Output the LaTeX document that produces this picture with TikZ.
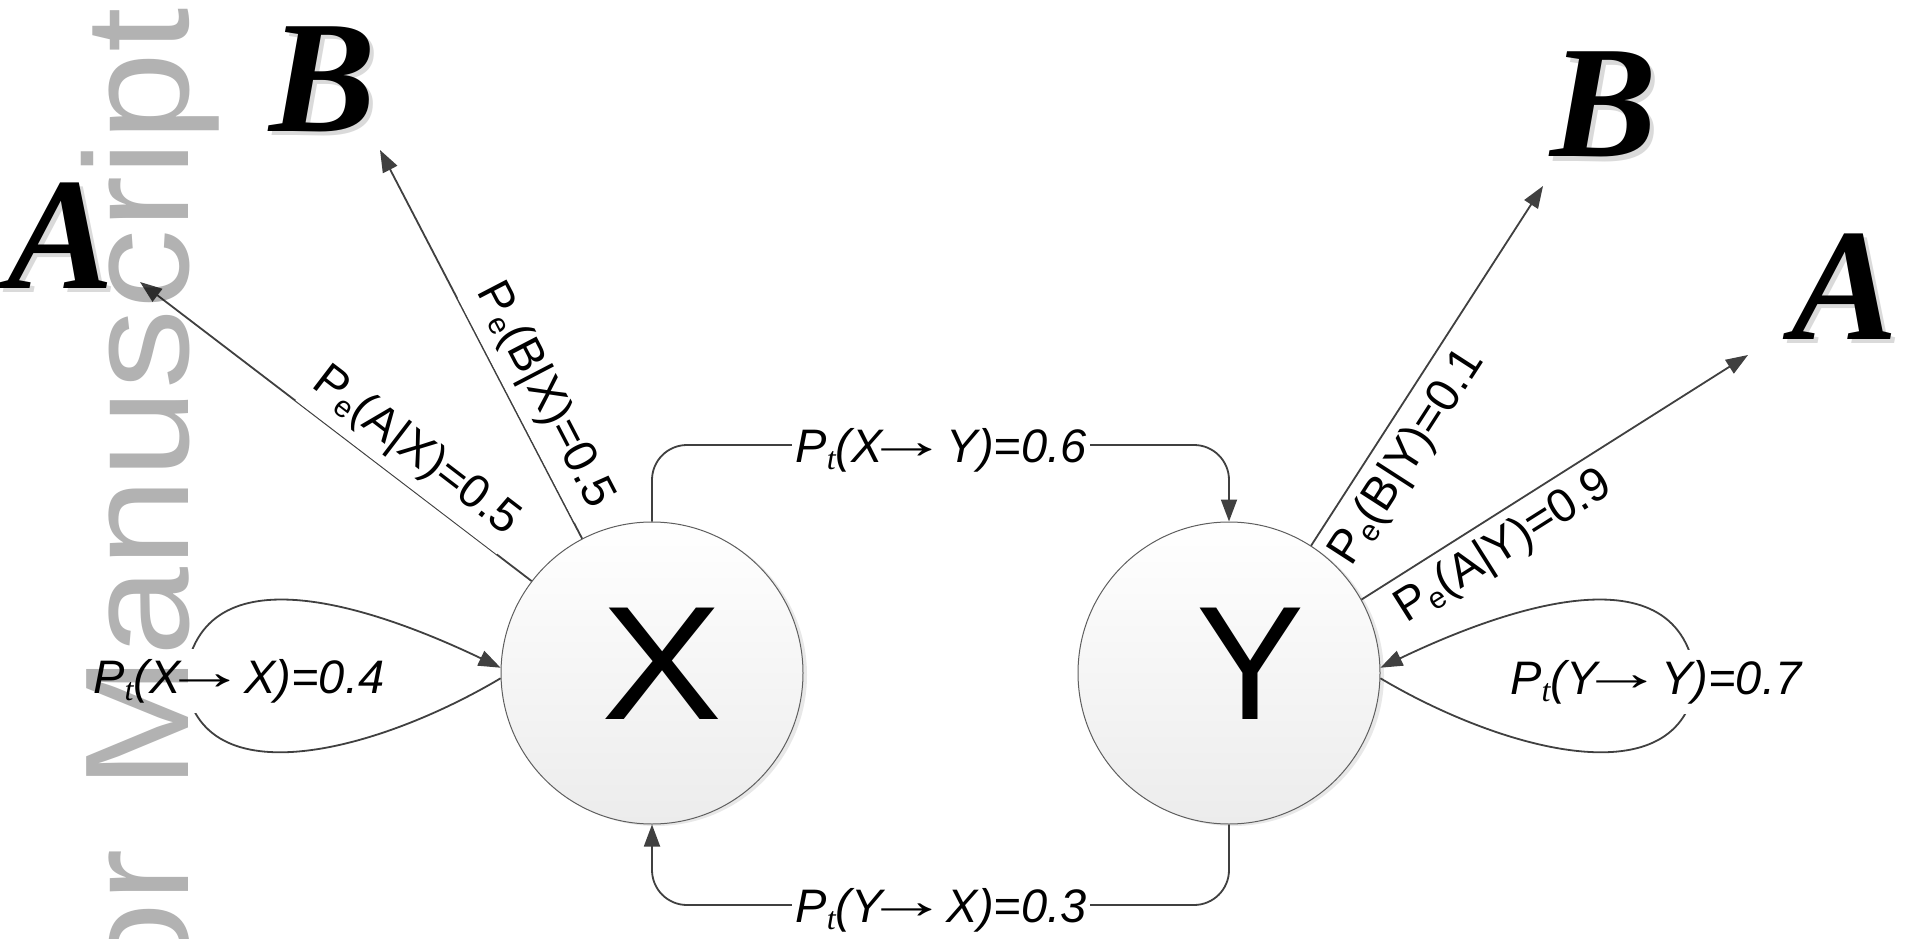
\documentclass[tikz,border=0pt]{standalone}
\usepackage{fontspec}
\usetikzlibrary{arrows.meta,shadows}
\newfontfamily\arialf{Liberation Sans}
\newfontfamily\tnrf{Liberation Serif}
\definecolor{linec}{RGB}{64,64,64}
\definecolor{circb}{RGB}{95,95,95}
\definecolor{circbot}{RGB}{236,236,236}
\definecolor{wmc}{RGB}{178,178,178}
\definecolor{shadc}{RGB}{218,218,218}
\newcommand\lblup{\arialf\fontsize{47}{56}\selectfont}
\newcommand\lblit{\arialf\itshape\fontsize{47}{56}\selectfont}
\newcommand\tsub{\raisebox{-7pt}{\tnrf\itshape\fontsize{32}{32}\selectfont t}}
\newcommand\esub{\raisebox{-6pt}{\arialf\upshape\fontsize{30}{30}\selectfont e}}
\newcommand\rarr{\hspace{3pt}\makebox[42pt]{\raisebox{4pt}{\scalebox{1.8}[1.1]{\upshape →}}}\hspace{6pt}}
\tikzset{
  conn/.style={draw=linec, line width=1.8pt, -{Triangle[length=22pt,width=16pt]}},
  state/.style={circle, minimum size=302pt, inner sep=0pt, draw=circb, line width=1pt,
    top color=white, bottom color=circbot,
    drop shadow={opacity=0.18, shadow xshift=4pt, shadow yshift=-2pt},
    font=\arialf\fontsize{162}{162}\selectfont},
  lblbox/.style={inner xsep=3pt, inner ysep=10pt, fill=white},
  lblfree/.style={inner xsep=3pt, inner ysep=10pt},
  letter/.style={anchor=base, inner sep=0pt, font=\tnrf\bfseries\itshape\fontsize{160}{160}\selectfont},
  letshadow/.style={letter, text=shadc},
  wmstyle/.style={inner sep=0pt, text=wmc, font=\arialf\fontsize{148}{148}\selectfont}
}
\begin{document}
\begin{tikzpicture}[x=1pt,y=-1pt]
\useasboundingbox (0,0) rectangle (1912,939);
\fill[white] (0,0) rectangle (1912,939);

% states
\node[state] (X) at (652,673) {\rule[-18pt]{0pt}{18pt}\hspace{20pt}\scalebox{1.12}[1]{X}};
\node[state] (Y) at (1229,673) {\rule[-18pt]{0pt}{18pt}\hspace{44pt}Y};

% emission targets
\node[letshadow] (As1) at (65,292) {A};
\node[letter] (A1) at (61,288) {A};
\node[letshadow] (Bs1) at (327,136) {B};
\node[letter] (B1) at (323,132) {B};
\node[letshadow] (Bs2) at (1608,161) {B};
\node[letter] (B2) at (1604,157) {B};
\node[letshadow] (As2) at (1849,343) {A};
\node[letter] (A2) at (1845,339) {A};

% arrow tips and helper points
\coordinate (tAX) at (140,282);
\coordinate (tBX) at (380,150);
\coordinate (tBY) at (1543,186);
\coordinate (tAY) at (1748,355);
\coordinate (tl) at (652,445);
\coordinate (tr) at (1229,445);
\coordinate (bl) at (652,905);
\coordinate (br) at (1229,905);
\coordinate (lx) at (185,680);
\coordinate (ly) at (1696,680);

% connectors
\draw[conn] (X) -- (tAX);
\draw[conn] (X) -- (tBX);
\draw[conn] (Y) -- (tBY);
\draw[conn] (Y.29) -- (tAY);
\draw[conn, rounded corners=35pt] (X.north) -- (tl) -- (tr) -- (Y.north);
\draw[conn, rounded corners=35pt] (Y.south) -- (br) -- (bl) -- (X.south);
\draw[conn] (X.182) .. controls (380,750) and (200,800) .. (lx)
            .. controls (200,545) and (380,610) .. (X.178);
\draw[conn] (Y.-2) .. controls (1501,750) and (1681,800) .. (ly)
            .. controls (1681,545) and (1501,610) .. (Y.2);

% labels
\node[lblbox, anchor=base] (lXY) at (941,462) {\lblit P\tsub(X\rarr\ Y)=0.6};
\node[lblbox, anchor=base] (lYX) at (941,922) {\lblit P\tsub(Y\rarr\ X)=0.3};
\node[lblbox, anchor=base west] (lXX) at (90,693) {\lblit P\tsub(X\rarr\ X)=0.4};
\node[lblbox, anchor=base west] (lYY) at (1507,694) {\lblit P\tsub(Y\rarr\ Y)=0.7};
\node[lblbox, rotate=-37.4, anchor=south] (lAX) at (396,477.5) {\lblup P\esub(A|X)=0.5};
\node[lblbox, rotate=-62.5, anchor=south] (lBX) at (516,410.5) {\lblup P\esub(B|X)=0.5};
\node[lblfree, rotate=57.2, anchor=north] (lBY) at (1381,440) {\lblup P\esub(B|Y)=0.1};
\node[lblfree, rotate=32.3, anchor=north] (lAY) at (1487,520) {\lblup P\esub(A|Y)=0.9};

% watermark
\begin{scope}[blend mode=multiply]
\clip (0,0) rectangle (1912,939);
\node[wmstyle, rotate=90, anchor=base west] (wm) at (188,992) {\scalebox{1.08}[1]{or \hspace{0.1em}Manuscript}};
\end{scope}
\end{tikzpicture}
\end{document}
